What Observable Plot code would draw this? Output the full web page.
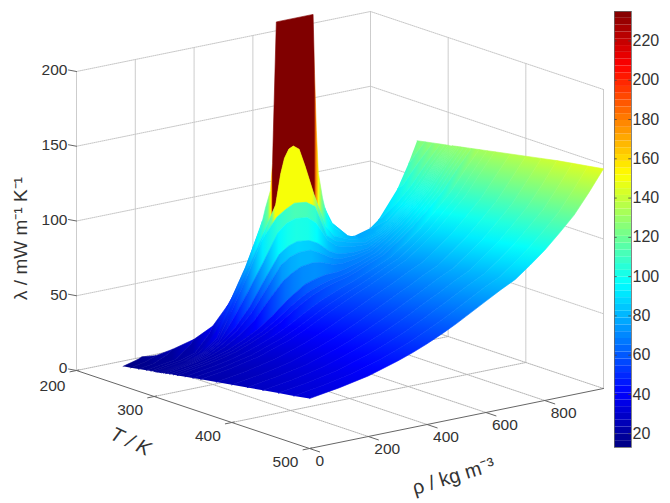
<!DOCTYPE html>
<html>
<head>
<meta charset="utf-8">
<script src="https://cdn.jsdelivr.net/npm/d3@7"></script>
<script src="https://cdn.jsdelivr.net/npm/@observablehq/plot@0.6"></script>
<style>
html,body{margin:0;padding:0;background:#fff}
#wrap{position:relative;width:670px;height:503px;overflow:hidden}
#wrap svg{position:absolute;top:0}
</style>
</head>
<body>
<div id="wrap"></div>
<script>
const n = null;
// Axis ticks
const rhoTicks = [0, 200, 400, 600, 800];
const tempTicks = [200, 300, 400, 500];
const lambdaTicks = [0, 50, 100, 150, 200];
const barTicks = [20, 40, 60, 80, 100, 120, 140, 160, 180, 200, 220];
const colorDomain = [13, 235];
const jet = ["#000080", "#0000ff", "#0080ff", "#00ffff", "#80ff80", "#ffff00", "#ff8000", "#ff0000", "#800000"];

// Surface: density columns (kg/m3), temperature rows (K)
const rhoCols = [0, 50, 100, 150, 200, 250, 300, 350, 400, 430, 460, 500, 530, 570, 600, 650, 700, 750, 800, 850, 900, 950, 1000];
const tempRows = [260, 270, 280, 290, 296, 300, 302, 303, 304, 305, 306.5, 308, 310, 312, 315, 320, 325, 330, 340, 350, 360, 380, 400, 420, 440, 460, 480, 500];
const lambdaRows = [
  [13.2,15.8,n,n,n,n,n,n,n,n,n,n,n,n,n,n,n,n,n,n,n,n,n],
  [14,16,n,n,n,n,n,n,n,n,n,n,n,n,n,n,n,n,n,n,n,113.7,125],
  [14.9,16.5,21,n,n,n,n,n,n,n,n,n,n,n,n,n,n,n,n,n,102,114.5,126],
  [15.9,17.5,19,27,n,n,n,n,n,n,n,n,n,n,n,n,n,n,85.5,93,103,115.5,127],
  [16.4,18,19.5,22.5,34,n,n,n,n,n,n,n,n,n,n,n,n,81.5,85,93.5,103.5,116.2,127.5],
  [16.7,18.3,19.8,23,30,n,n,n,n,n,n,n,n,n,n,n,77,79,85.5,94,103.8,116.5,128],
  [16.9,18.5,20,23.5,31,44,n,n,n,n,n,n,n,n,n,81,77,80,86,94,104,117,128],
  [17,18.6,20.1,24,33,47,66,n,n,n,n,n,n,n,n,82,77.5,80,86,94,104,117,128],
  [17.1,18.7,20.2,25,36,55,75,99,n,n,n,n,n,104,90,81,78,80.5,86,94,104,117,128],
  [17.2,18.8,20.3,24,32,52,72,92,113,143,150,135,115,92,84,80,78,80.5,86,94,104,117,128.5],
  [17.3,18.9,20.4,24,31,50,70,92,105,109,112,111,107,86,81,78,76,79.9,85.8,93.9,103.9,116.9,128.6],
  [17.4,19,20.5,24,30,44,60,77,95,100,102,101,96,83,78,75.5,75,79,85.5,94,104,117,128.8],
  [17.6,19.2,20.7,24,30,38,50,66,81,85,87,86,83,76,73,72,73,78.6,85.5,94.2,104.2,117.2,129],
  [17.8,19.4,20.9,23.5,29,36,46,60,74,78,80,80,77,72,70,70.4,72.4,78.4,85.5,94.4,104.4,117.4,129.2],
  [18,19.6,21.1,23.5,27.5,33.5,41,53,64,68,71,72,71,68,67.5,69,71.8,78.2,85.5,94.6,104.6,117.6,129.5],
  [18.5,20.1,21.6,23.9,26.8,31.3,36.4,43.4,51.9,56,60,62.4,63.6,63.8,65,68.1,71.6,78.4,86,95.1,105.1,118.1,130],
  [18.9,20.5,22,24.2,26.9,31,35.5,41.6,48.9,52.6,56,59.1,60.9,62.2,63.9,67.7,71.6,78.5,86.2,95.5,105.5,118.5,130.5],
  [19.3,20.9,22.4,24.6,27.1,31,35.3,40.9,47.6,51.1,54.4,57.7,59.7,61.6,63.6,67.7,71.8,78.8,86.6,95.9,105.9,118.9,131],
  [20.2,21.8,23.3,25.4,27.8,31.4,35.2,40,45.9,49.2,52.3,55.8,58.3,61,63.4,67.9,72.4,79.6,87.4,96.8,106.8,119.8,132],
  [21,22.6,24.1,26.2,28.5,31.9,35.5,40,45.4,48.6,51.6,55.2,57.9,61.1,63.7,68.5,73,80.3,88.2,97.6,107.6,120.6,133],
  [21.9,23.5,25,27.1,29.3,32.6,36.1,40.4,45.5,48.5,51.5,55.2,58,61.5,64.2,69.2,74,81.2,89.1,98.5,108.5,121.5,134],
  [23.6,25.2,26.7,28.8,30.9,34.2,37.5,41.6,46.3,49.3,52.2,56,59,62.7,65.6,70.7,75.4,82.8,90.7,100.2,110.2,123.2,136],
  [25.2,26.8,28.3,30.3,32.4,35.6,38.9,42.8,47.3,50.2,53.1,57,60,64,66.9,72.2,77,84.4,92.3,101.8,111.8,124.8,138],
  [26.9,28.5,30,32,34.1,37.2,40.4,44.2,48.6,51.4,54.3,58.2,61.3,65.4,68.5,73.8,78.6,86.1,94,103.5,113.5,126.5,140],
  [28.5,30.1,31.6,33.6,35.7,38.8,42,45.7,49.9,52.8,55.6,59.5,62.7,66.8,69.9,75.3,80.2,87.7,95.6,105.1,115.1,128.1,142],
  [30.1,31.7,33.2,35.2,37.2,40.3,43.4,47,51.2,53.9,56.8,60.8,64,68.2,71.4,76.8,81.8,89.2,97.2,106.7,116.7,129.7,143.7],
  [31.7,33.3,34.8,36.8,38.8,41.8,44.9,48.5,52.6,55.3,58.1,62.1,65.3,69.6,72.9,78.4,83.3,90.8,98.8,108.3,118.3,131.3,145.3],
  [33.4,35,36.5,38.5,40.5,43.5,46.5,50,54,56.7,59.5,63.5,66.8,71.2,74.5,80,85,92.5,100.5,110,120,133,147]
];
// Coexistence boundary: where each subcritical row stops on the vapour and liquid sides
const vapourRho = [64, 85, 116, 162, 210, 250, 295, 330, 405];
const vapourLam = [17, 18.7, 23.5, 30, 38, 51, 67, 88, 235];
const liquidRho = [1000, 945, 880, 790, 745, 680, 640, 600, 530];
const liquidLam = [124, 113, 100, 85, 82, 80, 82, 92, 235];
const criticalT = 304;
// Extra samples on the steep parts of the two rows nearest the critical point
const extraSamples = new Map([
  [304, {rho: [358, 368, 385, 392, 395, 535, 541, 548, 562, 582], lam: [104, 112, 123, 141, 163, 195, 157, 128, 111, 96]}],
  [305, {rho: [417, 445, 480], lam: [133, 148.5, 147]}]
]);
// Colours read from the wall and hump faces, which stay saturated across the spike
const faceColours = new Map([
  [304, {rho: [340, 375, 384, 388, 391, 532, 538, 547, 557, 575], lam: [95, 120, 150, 175, 235, 235, 180, 150, 125, 100]}],
  [305, {rho: [360, 385, 396, 522, 540, 570], lam: [100, 120, 150, 150, 125, 95]}]
]);

// View of the 3D box: floor corner at T=500, rho=0 and the per-unit screen steps
const view = {x0: 309, y0: 448, xT: 0.7767, yT: 0.26, xR: 0.294, yR: -0.06, zK: 1.495};
const project = (T, rho, lam = 0) => ({
  x: view.x0 + (T - 500) * view.xT + rho * view.xR,
  y: view.y0 + (T - 500) * view.yT + rho * view.yR - lam * view.zK
});

// Colour bar, which also owns the colour scale
const levels = d3.range(64).map(i => ({
  lo: colorDomain[0] + i * (colorDomain[1] - colorDomain[0]) / 64,
  hi: colorDomain[0] + (i + 1) * (colorDomain[1] - colorDomain[0]) / 64
}));
const fontFamily = "'Liberation Sans', Arial, sans-serif";
const bar = Plot.plot({
  width: 70, height: 503,
  marginLeft: 14, marginRight: 39, marginTop: 11, marginBottom: 56,
  style: {background: "transparent", fontFamily, color: "#333"},
  x: {domain: [0, 1], axis: null},
  y: {domain: colorDomain, axis: null},
  color: {type: "linear", domain: colorDomain, interpolate: d3.piecewise(d3.interpolateRgb, jet)},
  marks: [
    Plot.rect(levels, {x1: () => 0, x2: () => 1, y1: "lo", y2: "hi", fill: d => (d.lo + d.hi) / 2}),
    Plot.ruleY(barTicks, {x1: () => 0, x2: () => 0.16, stroke: "#444", strokeWidth: 0.8}),
    Plot.ruleY(barTicks, {x1: () => 0.84, x2: () => 1, stroke: "#444", strokeWidth: 0.8}),
    Plot.frame({stroke: "#666", strokeWidth: 0.8}),
    Plot.axisY(barTicks, {anchor: "right", label: null, tickSize: 0, tickPadding: 1, fontSize: 16, fill: "#333"})
  ]
});
const colorOf = bar.scale("color");

// Surface rows split into vapour/liquid pieces
const rows = tempRows.map((T, i) => {
  let pts = rhoCols.map((rho, j) => ({rho, lam: lambdaRows[i][j]})).filter(d => d.lam !== null);
  const extra = extraSamples.get(T);
  if (extra) pts = pts.concat(extra.rho.map((rho, j) => ({rho, lam: extra.lam[j]}))).sort((a, b) => a.rho - b.rho);
  if (i >= vapourRho.length) return {T, full: pts};
  const vapour = pts.filter(d => d.rho < vapourRho[i]).concat({rho: vapourRho[i], lam: vapourLam[i]});
  const liquid = [{rho: liquidRho[i], lam: liquidLam[i]}].concat(pts.filter(d => d.rho > liquidRho[i]));
  return {T, vapour, liquid, full: vapour.concat(liquid)};
});

const overrideColours = (pts, face) => pts
  .filter(d => d.rho < face.rho[0] || d.rho > face.rho[face.rho.length - 1])
  .concat(face.rho.map((rho, j) => ({rho, lam: face.lam[j]})))
  .sort((p, q) => p.rho - q.rho);

const strips = [];
for (let i = 0; i < rows.length - 1; i++) {
  const a = rows[i], b = rows[i + 1];
  let pairs;
  if (b.T <= criticalT) {
    // On the critical row the steep flanks belong to the wall strip, so stop short of them here
    const vEnd = a.vapour[a.vapour.length - 1].rho + 30, lStart = a.liquid[0].rho - 35;
    const fv = b.T === criticalT ? b.vapour.filter(d => d.rho <= vEnd) : b.vapour;
    const fl = b.T === criticalT ? b.liquid.filter(d => d.rho >= lStart) : b.liquid;
    pairs = [[a.vapour, fv, b, fv], [a.liquid, fl, b, fl]];
  } else {
    pairs = [[a.full, b.full, a, a.full]];
  }
  for (const [back, front, colRow, basePts] of pairs) {
    const outline = back.map(d => project(a.T, d.rho, d.lam))
      .concat(front.slice().reverse().map(d => project(b.T, d.rho, d.lam)));
    const skew = a.T >= 340 ? 5.5 : 0;
    const shift = skew ? 0 : (colRow === a ? 1 : -1) * (b.T - a.T) / 2 * view.xT;
    const face = b.T > criticalT ? faceColours.get(a.T) : null;
    const colPts = face ? overrideColours(basePts, face) : basePts;
    const stops = colPts.map(d => {
      const p = project(colRow.T, d.rho, d.lam);
      return {g: p.x + shift - skew * p.y, color: colorOf.apply(d.lam)};
    });
    strips.push({id: "s" + strips.length, outline, skew, stops});
  }
}

// Box grid
const seg = (list, a, b) => { const id = list.length; list.push({id, ...a}, {id, ...b}); };
const wallGrid = [], floorGrid = [], solid = [];
for (const rho of [0, 200, 400, 600, 800, 1000]) seg(wallGrid, project(200, rho, 0), project(200, rho, 200));
for (const T of [300, 400, 500]) seg(wallGrid, project(T, 1000, 0), project(T, 1000, 200));
for (const z of lambdaTicks.slice(1)) {
  seg(wallGrid, project(200, 0, z), project(200, 1000, z));
  seg(wallGrid, project(200, 1000, z), project(500, 1000, z));
}
for (const T of [200, 300, 400]) seg(floorGrid, project(T, 0, 0), project(T, 1000, 0));
for (const rho of [200, 400, 600, 800, 1000]) seg(floorGrid, project(200, rho, 0), project(500, rho, 0));
seg(solid, project(200, 0, 0), project(500, 0, 0));
seg(solid, project(500, 0, 0), project(500, 1000, 0));
for (const T of tempTicks) seg(solid, project(T, -22, 0), project(T, 8, 0));
for (const rho of rhoTicks) seg(solid, project(500, rho, 0), project(513, rho, 0));
for (const z of lambdaTicks) seg(solid, project(200, 0, z), {x: project(200, 0, z).x - 8, y: project(200, 0, z).y - 1.5});

const tx = {fontFamily, fill: "#333", stroke: "none"};
const main = Plot.plot({
  width: 670, height: 503,
  margin: 0,
  style: {background: "transparent", fontFamily},
  x: {domain: [0, 670], range: [0, 670], axis: null},
  y: {domain: [0, 503], range: [0, 503], axis: null},
  marks: [
    Plot.line(wallGrid, {x: "x", y: "y", z: "id", stroke: "#c6c6c6", strokeWidth: 1, strokeDasharray: "1 1"}),
    Plot.line(floorGrid, {x: "x", y: "y", z: "id", stroke: "#b4b4b4", strokeWidth: 1, strokeDasharray: "1 1"}),
    Plot.line(solid, {x: "x", y: "y", z: "id", stroke: "#666", strokeWidth: 1}),
    ...strips.map(s => Plot.line(s.outline, {x: "x", y: "y", fill: `url(#${s.id})`, stroke: `url(#${s.id})`, strokeWidth: 0.6})),
    Plot.text(lambdaTicks, {x: d => project(200, 0, d).x, y: d => project(200, 0, d).y - (d === 0 ? 2.5 : 1), text: d => String(d), dx: -9, textAnchor: "end", fontSize: 15.5, ...tx}),
    Plot.text(tempTicks, {x: d => project(d, 0, 0).x, y: d => project(d, 0, 0).y + (d === 200 ? 15.5 : 13.5), text: d => String(d), dx: -24, fontSize: 15.5, ...tx}),
    Plot.text(rhoTicks, {x: d => project(500, d, 0).x, y: d => project(500, d, 0).y, text: d => String(d), dx: 6, dy: 12.5, textAnchor: "start", fontSize: 15.5, ...tx}),
    Plot.text(["T / K"], {x: () => 130, y: () => 441, text: d => d, rotate: 25, fontSize: 20, fontStyle: "italic", ...tx}),
    Plot.text(["ρ / kg m⁻³"], {x: () => 453, y: () => 476, text: d => d, rotate: -17, fontSize: 20, ...tx}),
    Plot.text(["λ / mW m⁻¹ K⁻¹"], {x: () => 20, y: () => 238, text: d => d, rotate: -90, fontSize: 19, ...tx})
  ]
});

// Shade every strip with a gradient whose stops come from the colour scale
const defs = d3.select(main).insert("defs", ":first-child");
for (const s of strips) {
  const g0 = d3.min(s.stops, d => d.g), g1 = d3.max(s.stops, d => d.g);
  const L = Math.max(g1 - g0, 1), den = 1 + s.skew * s.skew;
  const grad = defs.append("linearGradient").attr("id", s.id)
    .attr("gradientUnits", "userSpaceOnUse")
    .attr("x1", g0).attr("y1", 0)
    .attr("x2", g0 + L / den).attr("y2", -s.skew * L / den);
  for (const st of s.stops) grad.append("stop").attr("offset", (st.g - g0) / L).attr("stop-color", st.color);
}

const wrap = document.getElementById("wrap");
main.style.left = "0px";
bar.style.left = "600px";
wrap.append(main, bar);
</script>
</body>
</html>
